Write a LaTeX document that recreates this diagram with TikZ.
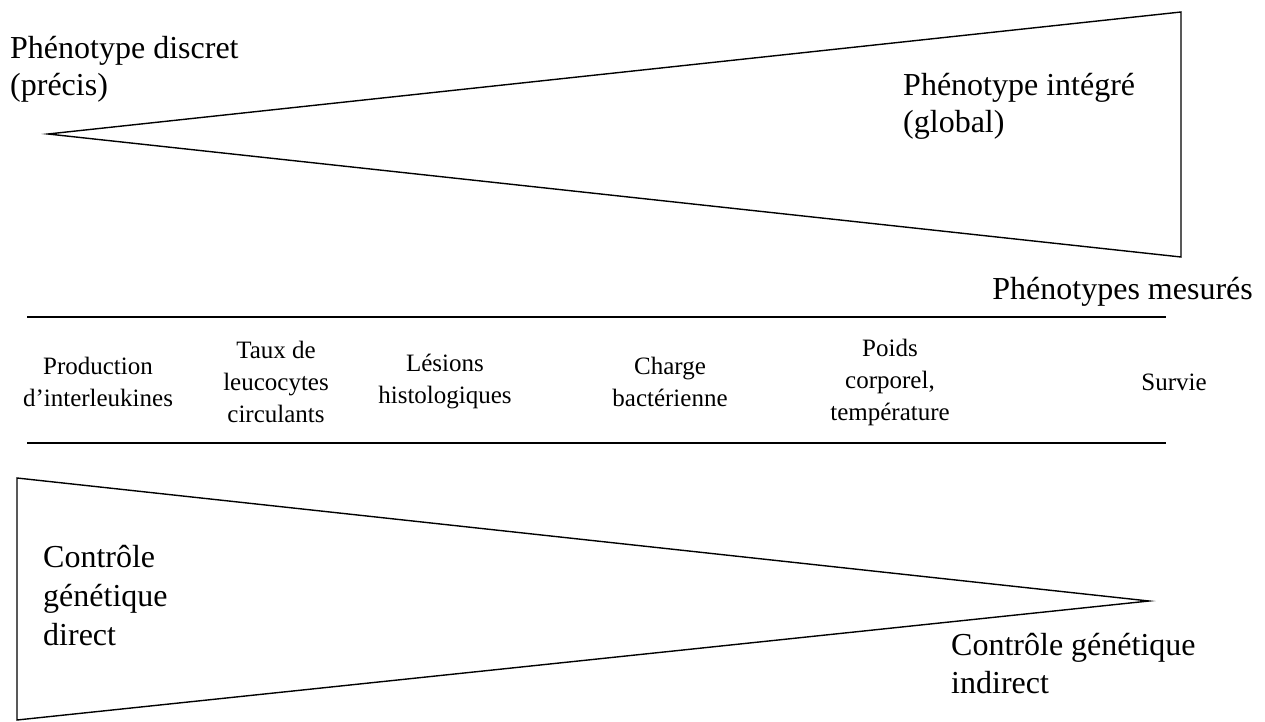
\documentclass[tikz,border=0pt]{standalone}
\usepackage{fontspec}
\setmainfont{Liberation Serif}

\begin{document}
\begin{tikzpicture}[x=1pt,y=-1pt,
		big/.style={font=\fontsize{32}{37}\selectfont, inner sep=0pt, align=left, anchor=north west},
		label/.style={font=\fontsize{25}{32}\selectfont, inner sep=0pt, align=center},
		wedge/.style={line width=1.4pt},
		rule/.style={line width=2pt}]
	\useasboundingbox (0,0) rectangle (1265,722);

		% upper wedge
		\coordinate (utip) at (48,134);
		\coordinate (utop) at (1181,12);
		\coordinate (ubot) at (1181,257);
		\draw[wedge] (utip) -- (utop) -- (ubot) -- cycle;

		\draw (10,36) node[big] (discret) {Phénotype discret\\(précis)};
		\draw (903,73) node[big] (integre) {Phénotype intégré\\(global)};
		\draw (1253,299) node[big, anchor=base east] (mesures) {Phénotypes mesurés};

		% band of measured phenotypes
		\coordinate (r1a) at (27,317);
		\coordinate (r1b) at (1166,317);
		\coordinate (r2a) at (27,443);
		\coordinate (r2b) at (1166,443);
		\draw[rule] (r1a) -- (r1b);
		\draw[rule] (r2a) -- (r2b);

		\draw (98,382) node[label] (prod) {Production\\d’interleukines};
		\draw (276,382) node[label] (taux) {Taux de\\leucocytes\\circulants};
		\draw (445,382) node[label] (lesions) {Lésions\\histologiques};
		\draw (670,382) node[label] (charge) {Charge\\bactérienne};
		\draw (890,382) node[label] (poids) {Poids\\corporel,\\température};
		\draw (1174,382) node[label] (survie) {Survie};

		% lower wedge
		\coordinate (ltop) at (17,478);
		\coordinate (lbot) at (17,720);
		\coordinate (ltip) at (1149,601);
		\draw[wedge] (ltop) -- (ltip) -- (lbot) -- cycle;

		\draw (43,545) node[big, font=\fontsize{32}{39}\selectfont] (direct) {Contrôle\\génétique\\direct};
		\draw (951,633) node[big, font=\fontsize{32}{38}\selectfont] (indirect) {Contrôle génétique\\indirect};
\end{tikzpicture}
\end{document}
